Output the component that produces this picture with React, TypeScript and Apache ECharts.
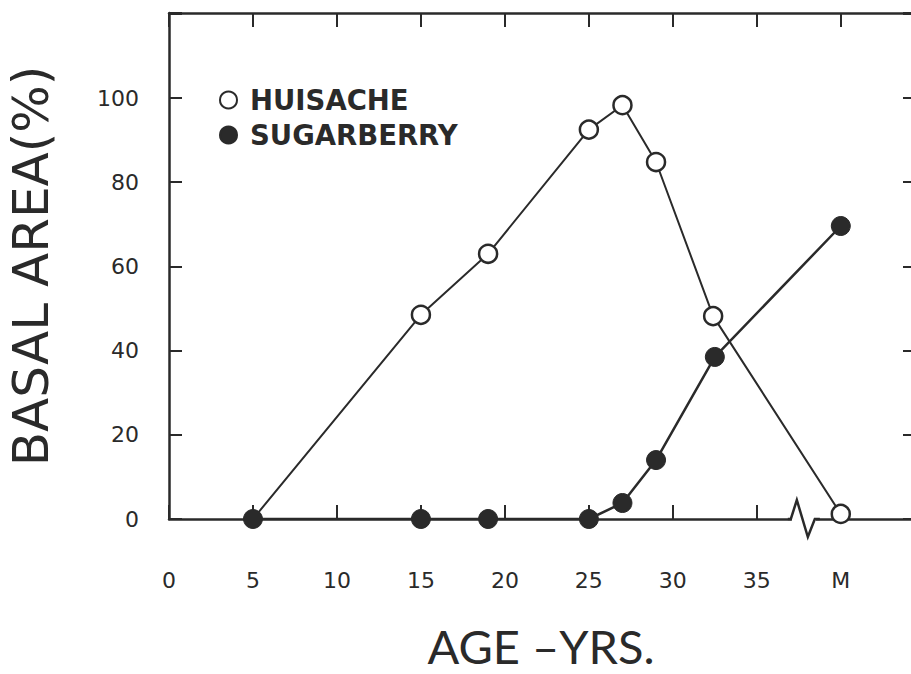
import React, { useEffect, useRef } from "react";
import * as echarts from "echarts";

const ageTicks = [0, 5, 10, 15, 20, 25, 30, 35, 40];
const tickLabels = ["0", "5", "10", "15", "20", "25", "30", "35", "M"];
const huisacheAge = [5, 15, 19, 25, 27, 29, 32.4, 40];
const huisacheVal = [0, 48.5, 63, 92.5, 98.3, 84.8, 48.2, 1.2];
const sugarAge = [5, 15, 19, 25, 27, 29, 32.5, 40];
const sugarVal = [0, 0, 0, 0, 3.8, 14, 38.5, 69.6];
const breakAt = 37.8;

const INK = "#2a2a2a";
const FONT = "DejaVu Sans";

export default function App() {
  const ref = useRef<HTMLDivElement>(null);
  useEffect(() => {
    if (!ref.current) return;
    const chart = echarts.init(ref.current, null, { renderer: "svg" });
    const fmt = (v: number) => {
      const i = ageTicks.indexOf(v);
      return i >= 0 ? tickLabels[i] : "";
    };
    chart.setOption({
      animation: false,
      backgroundColor: "#ffffff",
      grid: {
        left: 169,
        top: 13,
        width: 744,
        bottom: 155,
        containLabel: false,
        outerBoundsMode: "none",
      },
      xAxis: [
        {
          type: "value",
          min: 0,
          max: 44.3,
          interval: 5,
          position: "bottom",
          name: "AGE –YRS.",
          nameLocation: "middle",
          nameGap: 104,
          nameTextStyle: {
            fontFamily: "Lato",
            fontWeight: 400,
            fontSize: 47,
            lineHeight: 46,
            color: INK,
          },
          axisLine: { show: true, onZero: false, lineStyle: { color: INK, width: 2.5 } },
          axisTick: { show: true, inside: true, length: 14, lineStyle: { color: INK, width: 2 } },
          axisLabel: { margin: 50, formatter: fmt, fontFamily: FONT, fontSize: 22, color: INK },
          splitLine: { show: false },
        },
        {
          type: "value",
          min: 0,
          max: 44.3,
          interval: 5,
          position: "top",
          axisLine: { show: true, onZero: false, lineStyle: { color: INK, width: 2.5 } },
          axisTick: { show: true, inside: true, length: 14, lineStyle: { color: INK, width: 2 } },
          axisLabel: { show: false },
          splitLine: { show: false },
        },
      ],
      yAxis: [
        {
          type: "value",
          min: 0,
          max: 120.2,
          interval: 20,
          position: "left",
          name: "BASAL AREA(%)",
          nameLocation: "middle",
          nameGap: 113,
          nameTextStyle: { fontFamily: FONT, fontWeight: "normal", fontSize: 50, color: INK },
          axisLine: { show: true, onZero: false, lineStyle: { color: INK, width: 2.5 } },
          axisTick: { show: true, inside: true, length: 13, lineStyle: { color: INK, width: 2 } },
          axisLabel: {
            margin: 30,
            formatter: (v: number) => (v <= 100 ? String(v) : ""),
            fontFamily: FONT,
            fontSize: 22,
            color: INK,
          },
          splitLine: { show: false },
        },
        {
          type: "value",
          min: 0,
          max: 120.2,
          interval: 20,
          position: "right",
          axisLine: { show: true, onZero: false, lineStyle: { color: INK, width: 2.5 } },
          axisTick: { show: true, inside: true, length: 10, lineStyle: { color: INK, width: 2 } },
          axisLabel: { show: false },
          splitLine: { show: false },
        },
      ],
      legend: {
        show: true,
        orient: "vertical",
        left: 214,
        top: 81,
        itemGap: 7,
        itemWidth: 17,
        itemHeight: 17,
        selectedMode: false,
        textStyle: {
          fontFamily: FONT,
          fontWeight: "bold",
          fontSize: 27.5,
          color: INK,
          padding: [0, 0, 0, 8],
        },
        data: [
          { name: "HUISACHE", icon: "circle" },
          { name: "SUGARBERRY", icon: "circle" },
        ],
      },
      series: [
        {
          name: "HUISACHE",
          type: "line",
          data: huisacheAge.map((a, i) =>
            i === 0
              ? { value: [a, huisacheVal[i]], symbol: "none" }
              : { value: [a, huisacheVal[i]] }
          ),
          symbol: "circle",
          symbolSize: 18,
          lineStyle: { color: INK, width: 2 },
          itemStyle: { color: "#ffffff", borderColor: INK, borderWidth: 2.5 },
          z: 3,
        },
        {
          name: "SUGARBERRY",
          type: "line",
          data: sugarAge.map((a, i) => [a, sugarVal[i]]),
          symbol: "circle",
          symbolSize: 19,
          lineStyle: { color: INK, width: 2.5 },
          itemStyle: { color: INK, borderColor: INK, borderWidth: 1 },
          z: 4,
        },
      ],
    });
    const bx = chart.convertToPixel({ xAxisIndex: 0 }, breakAt) as number;
    const by = chart.convertToPixel({ yAxisIndex: 0 }, 0) as number;
    chart.setOption({
      graphic: [
        {
          type: "rect",
          shape: { x: bx - 12, y: by - 3, width: 24, height: 6 },
          style: { fill: "#ffffff" },
          z: 100,
        },
        {
          type: "polyline",
          shape: {
            points: [
              [bx - 16, by],
              [bx - 13, by],
              [bx - 7, by - 19],
              [bx + 4, by + 18],
              [bx + 11, by],
              [bx + 16, by],
            ],
          },
          style: { stroke: INK, lineWidth: 2.5, fill: "none" },
          z: 101,
        },
      ],
    });
    return () => chart.dispose();
  }, []);
  return (
    <div
      ref={ref}
      style={{ position: "fixed", left: 0, top: 0, width: 911, height: 674, background: "#fff" }}
    />
  );
}
